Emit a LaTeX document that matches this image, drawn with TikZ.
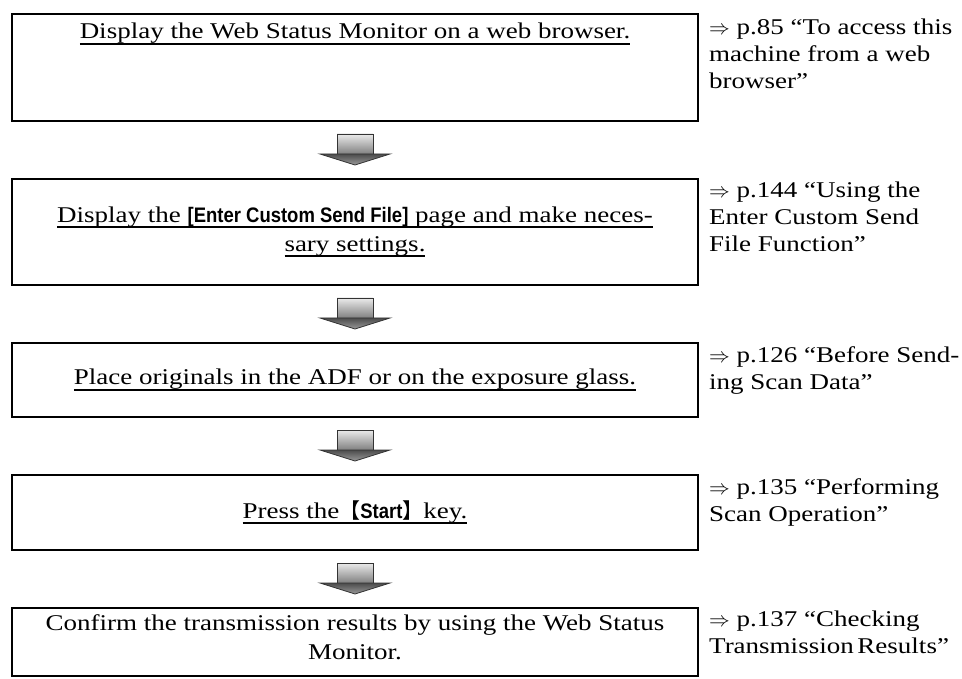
\documentclass[tikz,border=0pt]{standalone}
\usepackage{fontspec}
\usetikzlibrary{positioning}
\setmainfont[FakeStretch=1.2]{Liberation Serif}
\newfontfamily\keyfont[FakeStretch=0.88]{Liberation Sans}
\newfontfamily\cjkfont{Noto Sans CJK JP}
\newcommand{\undl}[1]{\setbox0\hbox{#1}\rlap{\rule[-6pt]{\wd0}{2pt}}\box0}
\newcommand{\keyname}[1]{{\keyfont\bfseries\fontsize{21}{21}\selectfont #1}}

\begin{document}
\begin{tikzpicture}[x=1pt, y=-1pt,
    font=\fontsize{22.5}{29}\selectfont,
    stepbox/.style={draw, line width=2pt, minimum width=686pt, align=center, inner sep=6pt, outer sep=0pt},
    note/.style={anchor=north west, align=left, inner sep=0pt, font=\fontsize{22.5}{27}\selectfont},
    stem/.style={draw=black!80, line width=0.8pt, top color=black!8, bottom color=black!50},
    head/.style={draw=black!80, line width=0.8pt, top color=black!70, bottom color=black!40},
    node distance=58pt]
    \useasboundingbox (0,0) rectangle (962,679);
    \node[stepbox, anchor=north, minimum height=107pt, text height=19pt, text depth=76pt] (b1) at (355,14)
        {\undl{Display the Web Status Monitor on a web browser.}};
    \node[stepbox, minimum height=106pt, below=of b1] (b2)
        {\undl{Display the \keyname{[Enter Custom Send File]} page and make neces-}\\ \undl{sary settings.}};
    \node[stepbox, minimum height=74pt, below=of b2] (b3)
        {\undl{Place originals in the ADF or on the exposure glass.}};
    \node[stepbox, minimum height=75pt, below=of b3] (b4)
        {\undl{Press the{\cjkfont\fontsize{21}{21}\selectfont 【}\keyname{Start}{\cjkfont\fontsize{21}{21}\selectfont 】}key.}};
    \node[stepbox, minimum height=68pt, text depth=10pt, below=of b4] (b5)
        {Confirm the transmission results by using the Web Status\\ Monitor.};
    \node[note] (n1) at ([shift={(11,5)}]b1.north east) {$\Rightarrow$ p.85 “To access this\\ machine from a web\\ browser”};
    \node[note] (n2) at ([shift={(11,3)}]b2.north east) {$\Rightarrow$ p.144 “Using the\\ Enter Custom Send\\ File Function”};
    \node[note] (n3) at ([shift={(11,3)}]b3.north east) {$\Rightarrow$ p.126 “Before Send-\\ ing Scan Data”};
    \node[note] (n4) at ([shift={(11,3)}]b4.north east) {$\Rightarrow$ p.135 “Performing\\ Scan Operation”};
    \node[note] (n5) at ([shift={(11,3)}]b5.north east) {$\Rightarrow$ p.137 “Checking\\ Transmission\,Results”};
    \foreach \a/\b in {b1/b2, b2/b3, b3/b4, b4/b5} {
        \path (\a) -- (\b) coordinate[midway] (m);
        \shadedraw[stem] ([shift={(-18,-16)}]m) rectangle ([shift={(18,4)}]m);
        \shadedraw[head] ([shift={(-35,4)}]m) -- ([shift={(35,4)}]m) -- ([shift={(0,15)}]m) -- cycle;
    }
\end{tikzpicture}
\end{document}
